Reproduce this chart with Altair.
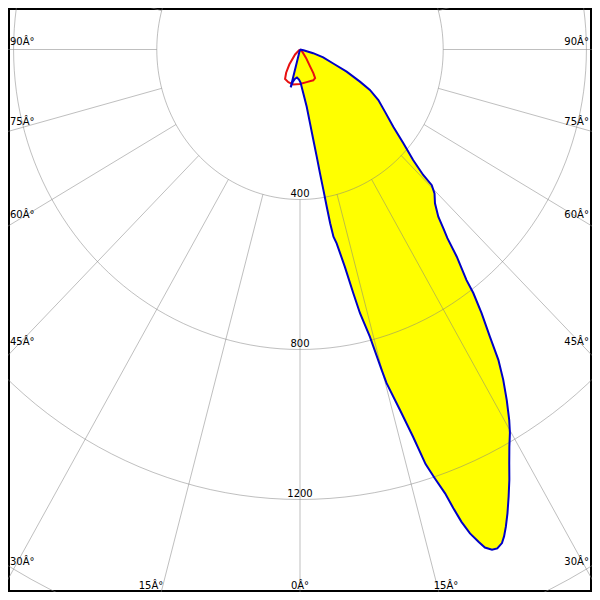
import altair as alt
import pandas as pd
import numpy as np

# C0-C180 plane (blue outline, yellow fill): gamma angle (deg, 0 = down) and candela
blue_gamma = [-180, -90, -16, -14.5, -13, -10, -6.5, -2, 1, 4.5,
              7, 8.1, 8.8, 9.3, 9.6, 9.9, 10.1, 10.3, 10.6, 11.2,
              12.2, 12.9, 13.4, 14.3, 14.95, 15.2, 16.2, 17.0, 17.6, 18.2,
              18.9, 19.3, 19.7, 20.2, 20.8, 21.25, 21.9, 22.5, 23.2, 23.7,
              24.3, 25.1, 26.05, 27.0, 27.9, 28.9, 29.85, 30.6, 31.7, 32.8,
              33.8, 34.7, 35.8, 36.7, 37.1, 38.4, 39.3, 40.0, 40.9, 42.6,
              44.4, 45.5, 45.8, 47.0, 49.1, 51.7, 55.0, 58.4, 61.1, 62.9,
              65.6, 68.1, 72.2, 75.0, 78.0, 82.0, 90, 180]
blue_cd = [0, 0, 0, 104, 88, 79, 75, 80, 88, 117,
           154, 199, 244, 290, 335, 380, 426, 471, 508, 527,
           593, 667, 723, 790, 885, 922, 1001, 1080, 1160, 1202,
           1251, 1296, 1338, 1375, 1404, 1425, 1438, 1440, 1432, 1418,
           1397, 1366, 1327, 1288, 1249, 1210, 1178, 1148, 1099, 1048,
           996, 932, 867, 810, 771, 705, 650, 623, 590, 557,
           537, 516, 480, 432, 382, 332, 290, 257, 223, 188,
           143, 100, 68, 38, 10, 0, 0, 0]

# C90-C270 plane (red outline)
red_gamma = [-180, -60, -50, -46, -36.7, -32, -28, -20.5, -11.3, 0,
             12, 24.3, 29, 30.7, 32, 37, 46, 55, 180]
red_cd = [0, 0, 6, 19, 50, 73, 89, 93, 95, 92,
          89, 90, 87, 73, 53, 28, 10, 0, 0]

ring_values = [400, 800, 1200, 1600]
ring_labels = ["400", "800", "1200"]
spoke_angles = list(range(-180, 180, 15))
side_angles = [90, 75, 60, 45, 30]
bottom_angles = [-15, 0, 15]
DEG = "\u00c2\u00b0"

blue_df = pd.DataFrame({"g": blue_gamma, "cd": blue_cd, "i": range(len(blue_gamma))})
red_df = pd.DataFrame({"g": red_gamma, "cd": red_cd, "i": range(len(red_gamma))})

circ_a = np.arange(-180, 181, 2)
circ_df = pd.DataFrame([{"cd": r, "g": float(a)} for r in ring_values for a in circ_a])
spoke_df = pd.DataFrame([{"g": a, "cd": r} for a in spoke_angles for r in (400, 2600)])
ringlab_df = pd.DataFrame({"cd": ring_values[:3], "t": ring_labels})
side_df = pd.DataFrame([{"g": a, "side": s, "t": f"{a}{DEG}"} for a in side_angles for s in (-1, 1)])
bottom_df = pd.DataFrame({"g": bottom_angles, "t": [f"{abs(a)}{DEG}" for a in bottom_angles]})

xs = alt.Scale(domain=[-815.6, 815.6], nice=False, zero=False)
ys = alt.Scale(domain=[-110.7, 1446.7], nice=False, zero=False, reverse=True)
X = alt.X("x:Q", scale=xs, axis=None)
Y = alt.Y("y:Q", scale=ys, axis=None)

polar_x = "datum.cd * sin(datum.g * PI / 180)"
polar_y = "datum.cd * cos(datum.g * PI / 180)"

fill = alt.Chart(blue_df).transform_calculate(x=polar_x, y=polar_y).mark_line(
    fill="#ffff00", strokeWidth=0, clip=True
).encode(x=X, y=Y, order=alt.Order("i:Q"))

grid_style = dict(color="#808080", strokeWidth=1, opacity=0.5, clip=True)
circles = alt.Chart(circ_df).transform_calculate(x=polar_x, y=polar_y).mark_line(**grid_style).encode(
    x=X, y=Y, detail="cd:N", order=alt.Order("g:Q"))
spokes = alt.Chart(spoke_df).transform_calculate(x=polar_x, y=polar_y).mark_line(**grid_style).encode(
    x=X, y=Y, detail="g:N", order=alt.Order("cd:Q"))

red = alt.Chart(red_df).transform_calculate(x=polar_x, y=polar_y).mark_line(
    color="#e81010", strokeWidth=2, clip=True
).encode(x=X, y=Y, order=alt.Order("i:Q"))
blue = alt.Chart(blue_df).transform_calculate(x=polar_x, y=polar_y).mark_line(
    color="#0000c8", strokeWidth=2, clip=True
).encode(x=X, y=Y, order=alt.Order("i:Q"))

font = dict(font="DejaVu Sans", fontSize=10, color="#000000")
ringlab = alt.Chart(ringlab_df).transform_calculate(x="0", y="datum.cd").mark_text(
    baseline="alphabetic", align="center", dy=-2.5, **font
).encode(x=X, y=Y, text="t:N")

side_y = "800 * cos(datum.g * PI / 180) / sin(datum.g * PI / 180)"
left_lab = alt.Chart(side_df).transform_filter("datum.side < 0").transform_calculate(
    x="-810", y=side_y).mark_text(align="left", baseline="middle", dy=-7.5, **font).encode(
    x=X, y=Y, text="t:N")
right_lab = alt.Chart(side_df).transform_filter("datum.side > 0").transform_calculate(
    x="807", y=side_y).mark_text(align="right", baseline="middle", dy=-7.5, **font).encode(
    x=X, y=Y, text="t:N")
bottom_lab = alt.Chart(bottom_df).transform_calculate(
    x="1430.7 * tan(datum.g * PI / 180) + (datum.g > 0 ? 24.4 : (datum.g < 0 ? -32.8 : 0))",
    y="1430.7").mark_text(align="center", baseline="middle", **font).encode(
    x=X, y=Y, text="t:N")

chart = alt.layer(fill, circles, spokes, red, blue, ringlab, left_lab, right_lab, bottom_lab).properties(
    width=584, height=584, padding=0, autosize=alt.AutoSizeParams(type="none")
).configure_view(stroke="#000000", strokeWidth=4)

chart.save("out.html", embed_options={"renderer": "svg", "actions": False})
